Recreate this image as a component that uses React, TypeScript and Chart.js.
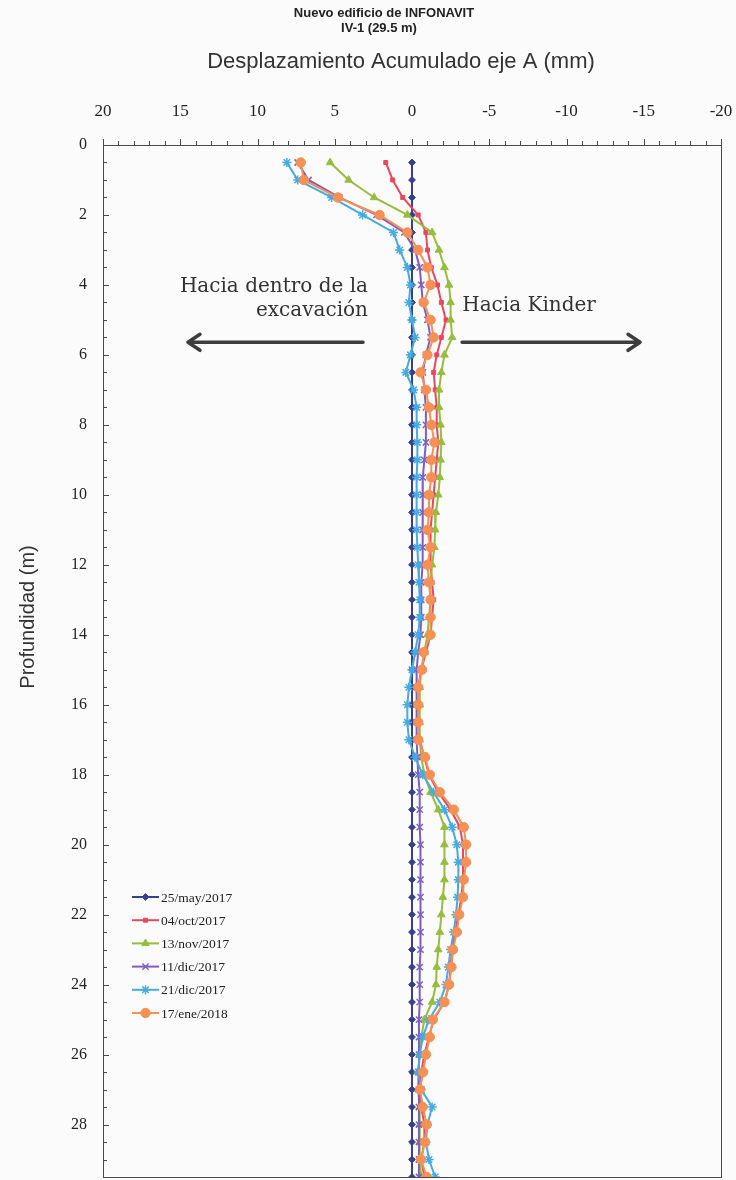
import React, { useEffect, useRef } from 'react';
import { Chart, registerables } from 'chart.js';
import { drawPoint } from 'chart.js/helpers';

Chart.register(...registerables);

// Depth of each reading (m)
const depths = [
  0.5, 1, 1.5, 2, 2.5, 3, 3.5, 4, 4.5, 5,
  5.5, 6, 6.5, 7, 7.5, 8, 8.5, 9, 9.5, 10,
  10.5, 11, 11.5, 12, 12.5, 13, 13.5, 14, 14.5, 15,
  15.5, 16, 16.5, 17, 17.5, 18, 18.5, 19, 19.5, 20,
  20.5, 21, 21.5, 22, 22.5, 23, 23.5, 24, 24.5, 25,
  25.5, 26, 26.5, 27, 27.5, 28, 28.5, 29, 29.5,
];

// Accumulated displacement (mm)
const may25 = [
  0, 0, 0, 0, 0, 0, 0, 0, 0, 0,
  0, 0, 0, 0, 0, 0, 0, 0, 0, 0,
  0, 0, 0, 0, 0, 0, 0, 0, 0, 0,
  0, 0, 0, 0, 0, 0, 0, 0, 0, 0,
  0, 0, 0, 0, 0, 0, 0, 0, 0, 0,
  0, 0, 0, 0, 0, 0, 0, 0, 0,
];
const oct04 = [
  1.7, 1.25, 0.6, -0.4, -0.9, -1.0, -1.25, -1.65, -1.9, -2.2,
  -1.9, -1.6, -1.4, -1.5, -1.6, -1.6, -1.7, -1.6, -1.5, -1.4,
  -1.3, -1.2, -1.2, -1.2, -1.3, -1.4, -1.3, -1.2, -0.9, -0.6,
  -0.4, -0.4, -0.4, -0.5, -0.8, -1.1, -1.7, -2.5, -3.1, -3.3,
  -3.3, -3.3, -3.2, -3.0, -2.8, -2.6, -2.5, -2.4, -2.1, -1.4,
  -1.1, -0.8, -0.6, -0.5, -0.6, -0.8, -0.8, -0.6, -0.8,
];
const nov13 = [
  5.3, 4.1, 2.45, 0.3, -1.3, -1.75, -2.1, -2.4, -2.5, -2.5,
  -2.6, -2.1, -1.9, -1.75, -1.75, -1.85, -1.9, -1.85, -1.8, -1.7,
  -1.55, -1.5, -1.45, -1.3, -1.2, -1.2, -1.1, -1.0, -0.8, -0.6,
  -0.5, -0.5, -0.5, -0.5, -0.6, -0.8, -1.2, -1.7, -2.1, -2.1,
  -2.1, -2.1, -2.0, -1.9, -1.8, -1.7, -1.6, -1.55, -1.3, -0.8,
  -0.6, -0.5, -0.4, -0.4, -0.5, -0.5, -0.5, -0.5, -0.6,
];
const dic11 = [
  7.4, 6.7, 4.7, 2.3, 0.5, -0.2, -0.5, -0.6, -0.7, -1.0,
  -1.2, -0.9, -0.7, -0.8, -0.9, -0.9, -0.9, -0.8, -0.7, -0.7,
  -0.7, -0.7, -0.7, -0.65, -0.6, -0.6, -0.6, -0.55, -0.4, -0.3,
  -0.3, -0.3, -0.3, -0.3, -0.35, -0.4, -0.5, -0.5, -0.5, -0.55,
  -0.55, -0.55, -0.55, -0.55, -0.55, -0.55, -0.5, -0.5, -0.5, -0.45,
  -0.45, -0.45, -0.45, -0.45, -0.45, -0.45, -0.45, -0.45, -0.45,
];
const dic21 = [
  8.1, 7.4, 5.2, 3.2, 1.2, 0.8, 0.3, 0.1, 0.2, 0.0,
  -0.2, 0.1, 0.4, -0.1, -0.3, -0.3, -0.35, -0.35, -0.3, -0.3,
  -0.3, -0.3, -0.35, -0.4, -0.45, -0.5, -0.5, -0.4, -0.2, 0.0,
  0.2, 0.3, 0.3, 0.2, -0.2, -0.7, -1.4, -2.1, -2.6, -2.9,
  -3.0, -3.0, -2.95, -2.85, -2.7, -2.5, -2.35, -2.2, -1.8, -1.1,
  -0.7, -0.5, -0.4, -0.6, -1.3, -1.0, -0.9, -1.1, -1.5,
];
const ene17 = [
  7.2, 7.0, 4.8, 2.1, 0.3, -0.4, -1.0, -1.2, -0.75, -1.2,
  -1.4, -1.0, -0.55, -0.9, -1.1, -1.25, -1.45, -1.25, -1.25, -1.1,
  -1.1, -1.0, -1.2, -1.0, -1.1, -1.2, -1.2, -1.2, -0.75, -0.65,
  -0.4, -0.4, -0.4, -0.4, -0.85, -1.15, -1.8, -2.7, -3.35, -3.5,
  -3.5, -3.35, -3.3, -3.05, -2.9, -2.65, -2.55, -2.4, -2.1, -1.35,
  -1.15, -0.9, -0.72, -0.52, -0.7, -0.95, -0.84, -0.58, -0.95,
];

const seriesLabels = ['25/may/2017', '04/oct/2017', '13/nov/2017', '11/dic/2017', '21/dic/2017', '17/ene/2018'];
const seriesValues = [may25, oct04, nov13, dic11, dic21, ene17];

const xTickValues = [20, 15, 10, 5, 0, -5, -10, -15, -20];
const yTickValues = [0, 2, 4, 6, 8, 10, 12, 14, 16, 18, 20, 22, 24, 26, 28];

const titleLines = ['Nuevo edificio de INFONAVIT', 'IV-1 (29.5 m)'];
const xTitle = 'Desplazamiento Acumulado eje A (mm)';
const yTitle = 'Profundidad (m)';

const styles = [
  { color: '#37408c', point: 'rectRot', radius: 3.4, bw: 1 },
  { color: '#e8485e', point: 'rect', radius: 2.8, bw: 1 },
  { color: '#96bd3c', point: 'triangle', radius: 4.4, bw: 1 },
  { color: '#7d5fc2', point: 'crossRot', radius: 4.4, bw: 1.5 },
  { color: '#45abe2', point: 'star', radius: 4.6, bw: 1.5 },
  { color: '#f69055', point: 'circle', radius: 4.7, bw: 1 },
];

const SERIF = '"Liberation Serif", "Times New Roman", serif';
const SANS = '"Liberation Sans", Arial, sans-serif';

const zeroPad = (s: any) => {
  s.paddingLeft = 0;
  s.paddingRight = 0;
  s.paddingTop = 0;
  s.paddingBottom = 0;
};

const decor = {
  id: 'decor',
  beforeDraw(chart: any) {
    const { ctx } = chart;
    ctx.save();
    ctx.fillStyle = '#fbfbfc';
    ctx.fillRect(0, 0, chart.width, chart.height);
    ctx.restore();
  },
  afterDraw(chart: any) {
    const { ctx, chartArea } = chart;
    const xs = chart.scales.x;
    const ys = chart.scales.y;
    const { left, right, top, bottom } = chartArea;
    ctx.save();

    // frame
    ctx.strokeStyle = '#4a4a4a';
    ctx.lineWidth = 1;
    ctx.strokeRect(left + 0.5, top + 0.5, right - left, bottom - top);

    // minor ticks, top (outward)
    ctx.beginPath();
    for (let v = -20; v <= 20; v += 1) {
      const px = Math.round(xs.getPixelForValue(v)) + 0.5;
      ctx.moveTo(px, top);
      ctx.lineTo(px, top - (v % 5 === 0 ? 6 : 4));
    }
    // left ticks (inward)
    for (let d = 0; d <= 29.5; d += 0.5) {
      const py = Math.round(ys.getPixelForValue(d)) + 0.5;
      ctx.moveTo(left, py);
      ctx.lineTo(left + (d % 2 === 0 ? 6 : 4), py);
    }
    ctx.stroke();

    // main title
    ctx.fillStyle = '#222';
    ctx.font = `bold 13px ${SANS}`;
    ctx.textAlign = 'center';
    ctx.textBaseline = 'middle';
    ctx.fillText(titleLines[0], 384, 13);
    ctx.fillText(titleLines[1], 379, 28);

    // x title
    ctx.font = `22px ${SANS}`;
    ctx.fillStyle = '#333';
    ctx.fillText(xTitle, 401, 62);

    // y title
    ctx.save();
    ctx.translate(28, 617);
    ctx.rotate(-Math.PI / 2);
    ctx.font = `20px ${SANS}`;
    ctx.fillStyle = '#333';
    ctx.fillText(yTitle, 0, 0);
    ctx.restore();

    // annotations
    ctx.fillStyle = '#333';
    ctx.font = `20px "DejaVu Serif", serif`;
    ctx.textBaseline = 'alphabetic';
    ctx.textAlign = 'right';
    ctx.fillText('Hacia dentro de la', xs.getPixelForValue(2.85), ys.getPixelForValue(4.2));
    ctx.fillText('excavación', xs.getPixelForValue(2.85), ys.getPixelForValue(4.88));
    ctx.textAlign = 'left';
    ctx.fillText('Hacia Kinder', xs.getPixelForValue(-3.25), ys.getPixelForValue(4.75));

    // arrows
    const ay = ys.getPixelForValue(5.64);
    const drawArrow = (x0: number, x1: number) => {
      const dir = x1 > x0 ? 1 : -1;
      ctx.beginPath();
      ctx.strokeStyle = '#3d3d3d';
      ctx.lineWidth = 3.5;
      ctx.lineCap = 'round';
      ctx.lineJoin = 'round';
      ctx.moveTo(x0, ay);
      ctx.lineTo(x1, ay);
      ctx.moveTo(x1 - dir * 12, ay - 8);
      ctx.lineTo(x1, ay);
      ctx.lineTo(x1 - dir * 12, ay + 8);
      ctx.stroke();
    };
    drawArrow(xs.getPixelForValue(3.17), xs.getPixelForValue(14.5));
    drawArrow(xs.getPixelForValue(-3.24), xs.getPixelForValue(-14.76));

    // legend
    const lx0 = left + 29;
    const lx1 = left + 56;
    let ly = 897;
    ctx.font = `13.5px ${SERIF}`;
    ctx.textAlign = 'left';
    ctx.textBaseline = 'middle';
    seriesLabels.forEach((lab, i) => {
      const st = styles[i];
      ctx.strokeStyle = st.color;
      ctx.fillStyle = st.color;
      ctx.lineWidth = 2;
      ctx.lineCap = 'butt';
      ctx.beginPath();
      ctx.moveTo(lx0, ly);
      ctx.lineTo(lx1, ly);
      ctx.stroke();
      ctx.lineWidth = st.bw;
      drawPoint(ctx, { pointStyle: st.point, radius: st.radius, rotation: 0, borderWidth: st.bw } as any, (lx0 + lx1) / 2, ly);
      ctx.fillStyle = '#222';
      ctx.fillText(lab, lx1 + 2, ly + 1);
      ly += 23.2;
    });

    ctx.restore();
  },
};

export default function App() {
  const ref = useRef<HTMLCanvasElement>(null);
  useEffect(() => {
    const datasets = seriesLabels.map((label, i) => ({
      label,
      data: depths.map((d, k) => ({ x: seriesValues[i][k], y: d })),
      borderColor: styles[i].color,
      backgroundColor: styles[i].color,
      pointBackgroundColor: styles[i].color,
      pointBorderColor: styles[i].color,
      pointStyle: styles[i].point,
      pointRadius: styles[i].radius,
      pointBorderWidth: styles[i].bw,
      borderWidth: 2,
      showLine: true,
      tension: 0,
      order: seriesLabels.length - i,
    }));
    const chart = new Chart(ref.current as HTMLCanvasElement, {
      type: 'scatter',
      data: { datasets } as any,
      options: {
        responsive: false,
        animation: false,
        layout: { autoPadding: false, padding: { left: 0, right: 15, top: 0, bottom: 3 } },
        plugins: { legend: { display: false }, tooltip: { enabled: false }, title: { display: false } },
        scales: {
          x: {
            type: 'linear',
            position: 'top',
            reverse: true,
            min: -20,
            max: 20,
            grid: { display: false },
            border: { display: false },
            afterBuildTicks: (s: any) => {
              s.ticks = xTickValues.map((v) => ({ value: v }));
            },
            afterFit: (s: any) => {
              s.height = 145;
              zeroPad(s);
            },
            ticks: {
              autoSkip: false,
              maxRotation: 0,
              padding: 15,
              color: '#222',
              font: { family: SERIF, size: 17 },
              callback: (v: any) => String(v),
            },
            title: { display: false, text: xTitle },
          },
          y: {
            type: 'linear',
            reverse: true,
            min: 0,
            max: 29.5,
            grid: { display: false },
            border: { display: false },
            afterBuildTicks: (s: any) => {
              s.ticks = yTickValues.map((v) => ({ value: v }));
            },
            afterFit: (s: any) => {
              s.width = 103;
              zeroPad(s);
            },
            ticks: {
              autoSkip: false,
              padding: 8,
              color: '#222',
              font: { family: SERIF, size: 16 },
              callback: (v: any) => String(v),
            },
            title: { display: false, text: yTitle },
          },
        },
      } as any,
      plugins: [decor],
    });
    return () => chart.destroy();
  }, []);
  return (
    <div style={{ position: 'absolute', left: 0, top: 0, width: 736, height: 1180 }}>
      <canvas ref={ref} width={736} height={1180} style={{ display: 'block', width: 736, height: 1180 }} />
    </div>
  );
}
